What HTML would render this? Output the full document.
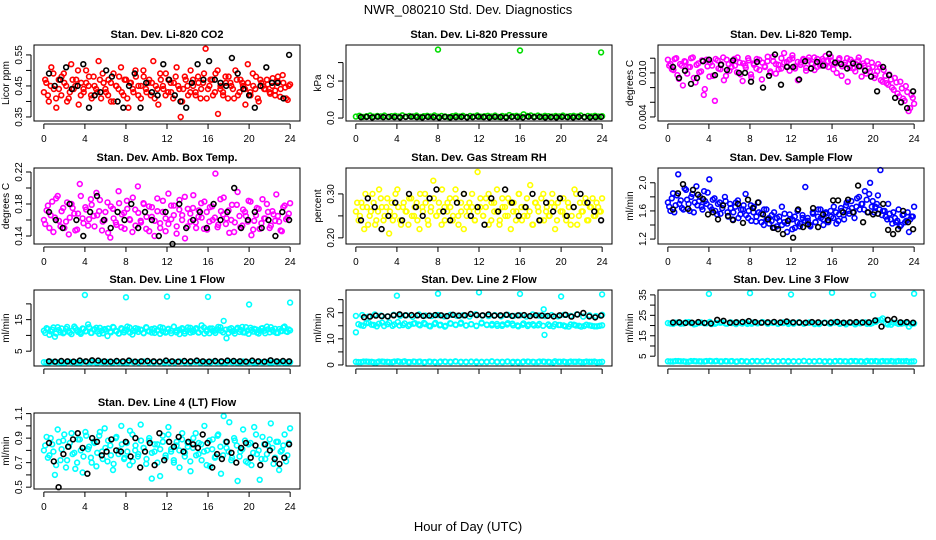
<!DOCTYPE html>
<html><head><meta charset="utf-8"><style>
html,body{margin:0;padding:0;background:#fff;}
svg{display:block;font-family:"Liberation Sans",Arial,sans-serif;}
</style></head><body>
<svg id="chart" width="936" height="540" viewBox="0 0 936 540">
<text x="468" y="14" text-anchor="middle" font-size="13">NWR_080210  Std. Dev. Diagnostics</text>
<text x="468" y="531" text-anchor="middle" font-size="13">Hour of Day (UTC)</text>
</svg>
<script>
// ---- data ----
const xTicks = [0,4,8,12,16,20,24];
const co2Red = [0.43,0.46,0.40,0.51,0.44,0.38,0.47,0.42,0.49,0.45,0.41,0.52,0.44,0.47,0.39,0.46,0.43,0.50,0.45,0.42,0.48,0.44,0.53,0.41,0.46,0.43,0.47,0.40,0.49,0.45,0.44,0.51,0.42,0.47,0.38,0.46,0.43,0.48,0.45,0.41,0.50,0.44,0.46,0.42,0.53,0.45,0.39,0.47,0.44,0.49,0.43,0.46,0.41,0.48,0.45,0.35,0.44,0.47,0.42,0.50,0.45,0.43,0.48,0.41,0.46,0.57,0.44,0.47,0.42,0.49,0.36,0.45,0.43,0.48,0.41,0.46,0.44,0.50,0.42,0.47,0.45,0.39,0.46,0.43,0.49,0.44,0.41,0.47,0.45,0.44,0.455,0.425,0.475,0.435,0.465,0.415,0.485,0.445,0.405,0.455];
const co2Red2 = [0.47,0.42,0.45,0.49,0.41,0.44,0.48,0.46,0.40,0.43,0.47,0.45,0.50,0.42,0.44,0.46,0.48,0.41,0.45,0.43,0.47,0.49,0.44,0.42,0.46,0.40,0.45,0.48,0.43,0.47,0.41,0.46,0.44,0.50,0.42,0.45,0.48,0.43,0.47,0.46,0.41,0.44,0.49,0.45,0.42,0.47,0.43,0.46,0.51,0.44,0.40,0.48,0.45,0.43,0.47,0.42,0.46,0.44,0.49,0.41,0.45,0.47,0.43,0.50,0.44,0.42,0.46,0.48,0.45,0.41,0.47,0.43,0.46,0.44,0.52,0.42,0.45,0.48,0.40,0.46,0.44,0.47,0.43,0.45,0.42,0.48,0.44,0.46,0.41,0.45];
const co2Black = [0.49,0.45,0.47,0.51,0.44,0.45,0.52,0.38,0.42,0.43,0.50,0.48,0.40,0.38,0.45,0.49,0.38,0.46,0.43,0.42,0.52,0.47,0.42,0.40,0.38,0.46,0.52,0.47,0.53,0.47,0.46,0.45,0.54,0.49,0.44,0.42,0.38,0.45,0.51,0.46,0.46,0.41,0.55];
const presGreen = [0.008,0.012,0.006,0.010,0.014,0.007,0.011,0.009,0.013,0.006,0.010,0.012,0.008,0.015,0.007,0.011,0.009,0.013,0.006,0.010,0.012,0.008,0.014,0.007,0.011,0.009,0.005,0.010,0.013,0.008,0.012,0.006,0.011,0.009,0.014,0.007,0.010,0.012,0.008,0.013,0.006,0.011,0.009,0.016,0.010,0.012,0.008,0.020,0.011,0.014,0.009,0.013,0.007,0.012,0.010,0.008,0.011,0.009,0.013,0.007,0.010,0.012,0.008,0.014,0.006,0.011,0.009,0.012,0.008,0.010];
const presOutX = [8,16,23.9];
const presOutY = [0.37,0.365,0.355];
const presBlack = [0.005,0.006,0.004,0.007,0.005,0.006,0.005,0.004,0.006,0.007,0.005,0.004,0.006,0.005,0.003,0.006,0.004,0.005,0.006,0.004,0.005,0.007,0.005,0.004,0.006,0.005,0.003,0.006,0.005,0.004,0.007,0.005,0.006,0.004,0.005,0.004,0.006,0.005,0.004,0.006,0.005,0.004,0.005,0.006];
const tempMag = [0.0118,0.0112,0.0104,0.0120,0.0092,0.0110,0.0116,0.0099,0.0108,0.0121,0.0087,0.0113,0.0102,0.0070,0.0118,0.0095,0.0110,0.0062,0.0117,0.0105,0.0121,0.0096,0.0112,0.0108,0.0119,0.0101,0.0114,0.0089,0.0110,0.0120,0.0098,0.0113,0.0106,0.0118,0.0091,0.0109,0.0116,0.0102,0.0122,0.0099,0.0111,0.0106,0.0127,0.0115,0.0103,0.0120,0.0109,0.0090,0.0114,0.0118,0.0107,0.0121,0.0112,0.0104,0.0119,0.0110,0.0116,0.0123,0.0108,0.0117,0.0112,0.0100,0.0120,0.0109,0.0114,0.0088,0.0118,0.0106,0.0112,0.0121,0.0095,0.0110,0.0116,0.0102,0.0108,0.0097,0.0112,0.0090,0.0104,0.0086,0.0098,0.0080,0.0093,0.0072,0.0088,0.0065,0.0082,0.0048,0.0070,0.0058];
const tempMag2 = [0.0110,0.0105,0.0119,0.0097,0.0112,0.0083,0.0115,0.0108,0.0120,0.0093,0.0111,0.0101,0.0117,0.0078,0.0109,0.0114,0.0096,0.0119,0.0106,0.0112,0.0090,0.0118,0.0103,0.0115,0.0110,0.0121,0.0098,0.0113,0.0107,0.0117,0.0094,0.0111,0.0119,0.0104,0.0114,0.0108,0.0122,0.0100,0.0116,0.0112,0.0105,0.0120,0.0114,0.0109,0.0118,0.0124,0.0106,0.0115,0.0111,0.0119,0.0103,0.0117,0.0113,0.0121,0.0108,0.0115,0.0119,0.0110,0.0116,0.0122,0.0105,0.0113,0.0118,0.0096,0.0111,0.0120,0.0107,0.0115,0.0102,0.0117,0.0109,0.0113,0.0099,0.0106,0.0114,0.0093,0.0102,0.0108,0.0088,0.0096,0.0084,0.0091,0.0077,0.0087,0.0068,0.0079,0.0062,0.0074,0.0052,0.0066];
const tempBlack = [0.0108,0.0093,0.0103,0.0085,0.0093,0.0116,0.0118,0.0097,0.0111,0.0104,0.0117,0.0100,0.0100,0.0088,0.0115,0.0080,0.0096,0.0125,0.0084,0.0108,0.0108,0.0091,0.0116,0.0106,0.0115,0.0110,0.0126,0.0114,0.0112,0.0106,0.0113,0.0109,0.0103,0.0095,0.0075,0.0108,0.0097,0.0066,0.0060,0.0052,0.0075];
const boxMag = [0.16,0.172,0.15,0.183,0.163,0.19,0.152,0.175,0.158,0.142,0.18,0.168,0.148,0.205,0.162,0.176,0.153,0.186,0.165,0.194,0.171,0.147,0.16,0.182,0.138,0.174,0.157,0.196,0.151,0.169,0.184,0.161,0.145,0.173,0.202,0.159,0.181,0.149,0.177,0.164,0.14,0.187,0.156,0.17,0.146,0.193,0.161,0.178,0.152,0.185,0.166,0.137,0.174,0.158,0.191,0.15,0.172,0.163,0.183,0.148,0.176,0.16,0.218,0.154,0.171,0.188,0.162,0.144,0.179,0.157,0.195,0.151,0.173,0.165,0.184,0.141,0.159,0.175,0.149,0.186,0.162,0.17,0.153,0.167,0.192,0.158,0.146,0.178,0.163,0.181];
const boxMag2 = [0.155,0.178,0.166,0.145,0.187,0.159,0.171,0.150,0.182,0.163,0.175,0.147,0.168,0.190,0.156,0.173,0.161,0.179,0.152,0.166,0.185,0.158,0.170,0.144,0.177,0.162,0.154,0.181,0.167,0.149,0.174,0.160,0.188,0.153,0.169,0.157,0.180,0.164,0.146,0.176,0.159,0.171,0.150,0.184,0.162,0.155,0.178,0.166,0.143,0.173,0.160,0.189,0.152,0.168,0.175,0.157,0.164,0.181,0.149,0.170,0.158,0.177,0.163,0.151,0.186,0.167,0.155,0.172,0.160,0.145,0.179,0.165,0.153,0.170,0.158,0.183,0.148,0.166,0.174,0.156,0.162,0.180,0.150,0.171,0.159,0.165,0.147,0.176,0.161,0.168];
const boxBlack = [0.17,0.16,0.15,0.18,0.16,0.14,0.17,0.19,0.16,0.15,0.17,0.16,0.18,0.15,0.17,0.16,0.14,0.17,0.13,0.18,0.15,0.16,0.17,0.15,0.18,0.16,0.17,0.20,0.15,0.16,0.17,0.15,0.16,0.14,0.17,0.16];
const rhYellow = [0.26,0.24,0.28,0.22,0.27,0.25,0.30,0.23,0.26,0.29,0.24,0.27,0.21,0.28,0.25,0.31,0.24,0.27,0.26,0.23,0.29,0.25,0.28,0.22,0.27,0.30,0.24,0.26,0.33,0.25,0.28,0.23,0.27,0.26,0.29,0.24,0.31,0.25,0.28,0.22,0.27,0.26,0.30,0.24,0.35,0.27,0.25,0.29,0.23,0.28,0.26,0.31,0.24,0.27,0.25,0.29,0.22,0.28,0.26,0.30,0.24,0.27,0.25,0.32,0.23,0.28,0.26,0.29,0.24,0.27,0.25,0.30,0.22,0.28,0.26,0.29,0.24,0.27,0.25,0.31,0.23,0.28,0.26,0.29,0.24,0.27,0.25,0.28,0.26,0.29];
const rhYellow2 = [0.28,0.25,0.27,0.30,0.23,0.26,0.28,0.24,0.31,0.27,0.25,0.29,0.26,0.24,0.30,0.27,0.23,0.28,0.26,0.29,0.25,0.27,0.24,0.30,0.26,0.28,0.23,0.27,0.29,0.25,0.26,0.31,0.24,0.28,0.27,0.25,0.29,0.23,0.26,0.30,0.25,0.28,0.27,0.24,0.26,0.29,0.25,0.27,0.30,0.24,0.28,0.26,0.23,0.29,0.27,0.25,0.28,0.26,0.24,0.30,0.27,0.25,0.29,0.26,0.23,0.28,0.27,0.24,0.30,0.26,0.25,0.28,0.27,0.24,0.29,0.26,0.25,0.28,0.23,0.27,0.30,0.25,0.26,0.28,0.24,0.27,0.29,0.25,0.27,0.26];
const rhBlack = [0.24,0.29,0.27,0.22,0.25,0.28,0.24,0.30,0.27,0.25,0.29,0.31,0.26,0.24,0.28,0.30,0.25,0.27,0.23,0.29,0.26,0.31,0.28,0.25,0.27,0.30,0.24,0.28,0.26,0.29,0.25,0.27,0.30,0.28,0.26,0.24];
const flowBlue = [1.72,1.60,1.85,1.68,2.12,1.75,1.62,1.90,1.70,1.80,1.58,1.95,1.74,1.66,1.88,1.70,2.05,1.62,1.78,1.55,1.72,1.64,1.80,1.58,1.70,1.48,1.66,1.75,1.55,1.62,1.84,1.50,1.68,1.58,1.45,1.72,1.56,1.40,1.62,1.50,1.46,1.58,1.38,1.52,1.66,1.44,1.30,1.55,1.48,1.36,1.60,1.42,1.50,1.94,1.46,1.38,1.56,1.44,1.62,1.50,1.40,1.58,1.46,1.52,1.66,1.42,1.55,1.60,1.48,1.72,1.56,1.64,1.50,1.78,1.62,1.70,1.88,1.58,2.00,1.74,1.66,1.82,2.18,1.60,1.52,1.70,1.48,1.58,1.44,1.62,1.40,1.55,1.46,1.30,1.52,1.66];
const flowBlue2 = [1.66,1.78,1.58,1.82,1.70,1.64,1.92,1.76,1.60,1.84,1.72,1.68,1.80,1.62,1.74,1.86,1.66,1.76,1.60,1.70,1.56,1.68,1.74,1.52,1.64,1.58,1.72,1.50,1.62,1.68,1.54,1.60,1.46,1.66,1.52,1.58,1.44,1.62,1.48,1.42,1.54,1.36,1.50,1.46,1.40,1.56,1.42,1.48,1.34,1.52,1.44,1.38,1.54,1.46,1.50,1.40,1.58,1.44,1.52,1.62,1.48,1.56,1.44,1.60,1.50,1.58,1.46,1.64,1.54,1.68,1.60,1.74,1.58,1.66,1.80,1.70,1.62,1.76,1.84,1.66,1.58,1.70,1.62,1.54,1.60,1.48,1.56,1.42,1.50,1.46,1.38,1.54,1.44,1.58,1.48,1.52];
const flowBlack = [1.62,1.85,1.98,1.63,1.90,1.83,1.77,1.55,1.58,1.48,1.68,1.53,1.47,1.70,1.43,1.76,1.64,1.72,1.55,1.48,1.36,1.34,1.27,1.46,1.22,1.62,1.37,1.41,1.64,1.37,1.55,1.47,1.75,1.75,1.58,1.76,1.58,1.96,1.44,1.58,1.55,1.56,1.70,1.33,1.27,1.34,1.60,1.44,1.34];
const l1Upper = [11.5,12.3,10.2,11.8,9.6,12.6,11.0,10.7,12.1,11.4,10.4,12.8,11.7,10.9,12.2,11.3,13.5,10.8,11.9,12.4,10.5,11.6,12.0,9.8,11.2,12.7,11.5,10.6,12.3,11.0,11.8,12.5,10.3,11.4,12.1,11.7,10.8,12.6,11.3,10.9,12.2,11.5,10.5,12.4,11.1,11.9,10.7,12.8,11.6,10.4,12.0,11.3,12.5,10.9,11.7,12.3,11.0,13.2,10.6,11.8,12.2,11.4,10.8,12.7,11.5,14.6,9.1,12.0,11.3,10.6,12.4,11.8,11.0,12.6,10.5,11.7,12.1,10.9,11.5,12.3,10.7,11.9,12.6,11.2,10.8,12.0,11.4,12.8,11.1,11.6];
const l1Upper2 = [10.8,12.0,11.3,12.5,10.6,11.7,12.2,11.0,12.7,10.9,11.6,12.3,11.1,10.5,12.1,11.4,12.6,10.8,11.9,11.2,12.4,10.7,11.8,12.2,11.0,12.5,11.3,10.6,12.0,11.6,12.8,10.9,11.5,12.3,11.1,11.8,10.7,12.4,11.4,12.0,10.8,11.7,12.6,11.2,10.9,12.1,11.5,12.7,11.0,11.8,12.3,10.6,11.6,12.4,11.1,12.0,10.9,11.7,12.5,11.3,10.7,12.2,11.5,11.9,12.6,11.0,11.8,10.8,12.3,11.4,12.0,11.1,12.7,10.9,11.6,12.4,11.2,11.9,10.6,12.2,11.5,12.8,11.0,11.7,12.1,10.8,11.4,12.5,11.3,11.9];
const l1Lower = [1.5,1.4,1.6,1.5,1.3,1.6,1.5,1.4,1.7,1.5,1.4,1.6,1.5,1.3,1.6,1.5,1.4,1.6,1.5,1.7,1.4,1.5,1.6,1.3,1.5,1.4,1.6,1.5,1.4,1.6,1.5,1.3,1.6,1.5,1.4,1.6,1.5,1.4,1.7,1.5,1.4,1.6,1.5,1.4,1.6,1.5,1.3,1.5];
const l1Lower2 = [1.4,1.6,1.5,1.3,1.6,1.5,1.4,1.6,1.5,1.7,1.4,1.5,1.6,1.4,1.5,1.3,1.6,1.5,1.4,1.6,1.5,1.4,1.5,1.6,1.4,1.5,1.7,1.4,1.5,1.6,1.3,1.5,1.4,1.6,1.5,1.4,1.6,1.5,1.3,1.5,1.6,1.4,1.5,1.6,1.4,1.5,1.6,1.4];
const l1Black = [1.8,1.7,1.9,1.8,1.7,2.0,1.8,2.1,2.0,1.8,1.7,1.9,1.8,2.0,1.7,1.8,1.9,1.8,1.7,2.0,1.8,1.7,1.9,1.8,2.0,1.8,1.7,1.9,1.8,2.0,1.9,1.8,1.7,2.0,1.8,1.7,2.1,1.8,1.9,1.8];
const l1OutX = [4,8,12,16,20,24];
const l1OutY = [22.8,22.1,22.3,22.2,19.8,20.4];
const l2Top = [18.8,19.1,18.5,19.3,18.9,18.6,19.2,18.8,19.0,18.4,19.3,18.9,18.7,19.1,18.6,19.2,18.8,19.0,18.5,19.4,18.9,18.7,19.1,18.6,19.2,18.8,19.0,18.5,19.3,18.9,18.7,19.1,18.6,19.2,18.8,19.4,18.5,19.0,18.7,19.2];
const l2Mid = [12.5,15.2,16.0,15.4,14.8,16.2,15.6,15.0,16.4,15.3,14.9,15.8,15.5,16.1,15.0,15.7,15.2,14.7,16.0,15.4,15.8,15.1,15.6,14.9,16.2,15.3,15.7,15.0,15.5,16.0,15.2,14.8,15.9,15.4,15.1,15.7,11.5,15.0,15.6,15.3,14.8,15.5,15.1,14.7,15.4,15.0,14.8,15.2];
const l2Mid2 = [15.6,15.0,16.1,15.3,15.8,14.9,16.3,15.5,15.1,15.9,15.4,16.0,15.2,15.7,14.8,16.1,15.4,15.0,15.8,15.3,16.2,15.1,15.6,15.0,15.9,15.4,15.2,15.7,15.0,15.5,15.8,15.1,15.4,14.9,15.6,15.2,15.0,15.5,14.8,15.3,15.1,14.7,15.4,15.0,14.9,15.2,14.8,15.0];
const l2Low = [1.2,1.1,1.3,1.2,1.0,1.3,1.2,1.1,1.4,1.2,1.1,1.3,1.2,1.0,1.3,1.2,1.1,1.3,1.2,1.4,1.1,1.2,1.3,1.0,1.2,1.1,1.3,1.2,1.1,1.3,1.2,1.0,1.3,1.2,1.1,1.3,1.2,1.1,1.4,1.2,1.1,1.3,1.2,1.1,1.3,1.2,1.0,1.2];
const l2Low2 = [1.1,1.3,1.2,1.0,1.3,1.2,1.1,1.3,1.2,1.4,1.1,1.2,1.3,1.1,1.2,1.0,1.3,1.2,1.1,1.3,1.2,1.1,1.2,1.3,1.1,1.2,1.4,1.1,1.2,1.3,1.0,1.2,1.1,1.3,1.2,1.1,1.3,1.2,1.0,1.2,1.3,1.1,1.2,1.3,1.1,1.2,1.3,1.1];
const l2Black = [18.3,18.5,18.9,18.7,18.6,19.0,19.4,19.0,19.1,19.0,18.8,18.9,19.1,19.0,18.7,19.2,18.9,19.0,19.5,19.1,19.0,19.3,18.9,19.0,19.2,18.8,19.0,19.1,18.7,19.0,18.9,18.8,18.6,19.0,19.2,18.5,19.3,19.9,18.6,18.2,18.9];
const l2OutX = [4,8,12,16,18.3,20,24];
const l2OutY = [26.5,27.3,27.8,27.2,21.3,26.2,27.0];
const l3Main = [21.2,20.8,21.5,21.0,21.7,20.6,21.3,21.1,21.8,20.9,21.4,21.0,21.6,20.7,21.2,21.5,20.9,21.3,21.7,21.0,21.4,20.8,21.2,21.6,20.9,21.3,21.0,21.5,20.7,21.2,21.4,20.9,21.6,21.1,20.6,21.3,21.0,21.5,20.8,21.2,22.5,23.5,20.5,21.4,20.8,21.2,19.5,21.0];
const l3Main2 = [21.0,21.4,20.9,21.6,21.2,20.8,21.5,21.1,20.7,21.3,21.6,20.9,21.2,21.5,21.0,20.8,21.4,21.1,21.6,20.9,21.3,21.0,21.5,20.8,21.2,21.6,20.9,21.3,21.1,20.7,21.4,21.0,21.5,20.8,21.2,21.4,20.6,21.1,21.5,20.9,21.8,22.8,21.0,20.4,21.3,20.9,21.1,20.7];
const l3Low = [2.5,2.4,2.6,2.5,2.3,2.6,2.5,2.4,2.7,2.5,2.4,2.6,2.5,2.3,2.6,2.5,2.4,2.6,2.5,2.7,2.4,2.5,2.6,2.3,2.5,2.4,2.6,2.5,2.4,2.6,2.5,2.3,2.6,2.5,2.4,2.6,2.5,2.4,2.7,2.5,2.4,2.6,2.5,2.4,2.6,2.5,2.3,2.5];
const l3Low2 = [2.4,2.6,2.5,2.3,2.6,2.5,2.4,2.6,2.5,2.7,2.4,2.5,2.6,2.4,2.5,2.3,2.6,2.5,2.4,2.6,2.5,2.4,2.5,2.6,2.4,2.5,2.7,2.4,2.5,2.6,2.3,2.5,2.4,2.6,2.5,2.4,2.6,2.5,2.3,2.5,2.6,2.4,2.5,2.6,2.4,2.5,2.6,2.4];
const l3Black = [21.5,21.6,21.3,21.4,21.7,21.3,21.0,22.8,22.3,21.4,21.6,21.8,22.2,21.7,21.4,21.6,21.8,21.5,22.0,21.6,21.5,21.4,21.7,21.6,21.3,21.5,21.8,21.4,21.6,21.7,21.5,21.6,22.5,19.5,22.8,23.2,21.6,21.7,21.4];
const l3OutX = [4,8,12,16,20,24];
const l3OutY = [35.5,35.9,35.2,36.1,35.0,35.6];
const l4Cyan = [0.80,0.91,0.76,0.85,0.60,0.97,0.72,0.88,0.66,0.83,0.94,0.78,0.70,0.89,0.62,0.95,0.81,0.74,0.87,0.67,0.92,0.79,0.98,0.71,0.84,0.64,0.90,0.77,1.00,0.73,0.86,0.68,0.93,0.80,0.75,1.01,0.82,0.69,0.88,0.57,0.79,0.85,0.59,0.92,0.74,0.99,0.81,0.70,0.87,0.66,0.94,0.78,0.83,0.63,0.90,0.76,0.86,0.72,1.00,0.80,0.67,0.89,0.75,0.93,0.61,1.08,0.82,1.03,0.74,0.88,0.55,0.79,0.97,0.71,0.85,0.68,0.99,0.77,0.56,0.91,0.73,0.84,1.02,0.69,0.87,0.64,0.80,0.93,0.76,0.98];
const l4Cyan2 = [0.84,0.74,0.90,0.79,0.68,0.87,0.81,0.93,0.72,0.86,0.77,0.65,0.89,0.80,0.75,0.92,0.83,0.70,0.86,0.78,0.95,0.73,0.82,0.88,0.76,0.69,0.91,0.80,0.85,0.74,0.79,0.96,0.71,0.84,0.77,0.88,0.82,0.73,0.90,0.78,0.85,0.70,0.81,0.87,0.76,0.93,0.79,0.72,0.84,0.80,0.89,0.75,0.86,0.71,0.82,0.94,0.77,0.85,0.79,0.68,0.88,0.81,0.74,0.92,0.83,0.76,0.87,0.79,0.72,0.90,0.84,0.75,0.81,0.88,0.70,0.86,0.78,0.93,0.80,0.73,0.85,0.77,0.89,0.82,0.74,0.87,0.79,0.84,0.71,0.86];
const l4Black = [0.86,0.71,0.50,0.77,0.83,0.89,0.94,0.82,0.61,0.90,0.87,0.76,0.79,0.89,0.80,0.79,0.87,0.75,0.90,0.66,0.79,0.86,0.68,0.94,0.72,0.87,0.83,0.91,0.79,0.87,0.85,0.82,0.93,0.86,0.66,0.77,0.73,0.87,0.78,0.70,0.82,0.86,0.74,0.84,0.68,0.85,0.80,0.73,0.69,0.74,0.85];

// ---- axis ticks ----
const co2Ticks=[0.35,0.40,0.45,0.50,0.55], co2Labels=["0.35","","0.45","","0.55"];
const presTicks=[0,0.1,0.2,0.3], presLabels=["0.0","","0.2",""];
const tempTicks=[0.004,0.006,0.008,0.010,0.012], tempLabels=["0.004","","","0.010",""];
const boxTicks=[0.14,0.16,0.18,0.20,0.22], boxLabels=["0.14","","0.18","","0.22"];
const rhTicks=[0.20,0.25,0.30], rhLabels=["0.20","","0.30"];
const flowTicks=[1.2,1.4,1.6,1.8,2.0], flowLabels=["1.2","","1.6","","2.0"];
const l1Ticks=[5,10,15,20], l1Labels=["5","","15",""];
const l2Ticks=[0,5,10,15,20,25], l2Labels=["0","","10","","20",""];
const l3Ticks=[5,10,15,20,25,30,35], l3Labels=["5","","15","","25","","35"];
const l4Ticks=[0.5,0.6,0.7,0.8,0.9,1.0,1.1], l4Labels=["0.5","","0.7","","0.9","","1.1"];

const NS="http://www.w3.org/2000/svg";
const svg=document.getElementById('chart');
const colL=[34,346,658], rowT=[45,168,290,413], W=266, H=76;
function mk(tag,attrs,parent){const e=document.createElementNS(NS,tag);for(const k in attrs)e.setAttribute(k,attrs[k]);parent.appendChild(e);return e;}

function series(g,sx,sy,ys,xs,x0,x1,color,name){
  ys.forEach((v,i)=>{
    const h = xs ? xs[i] : x0 + (x1-x0)*i/(ys.length-1);
    const c=mk('circle',{cx:sx(h).toFixed(1),cy:sy(v).toFixed(1),r:2.4,fill:'none',stroke:color,'stroke-width':1.6},g);
    
    
  });
}

function panel(p){
  const L=colL[p.col], T=rowT[p.row];
  const g=mk('g',{},svg);
  
  
  const sx=h=>L+(h+0.96)/25.92*W;
  const sy=v=>T+H-(v-p.ylo)/(p.yhi-p.ylo)*H;
  const t=mk('text',{x:L+W/2,y:T-7,'text-anchor':'middle','font-size':11,'font-weight':'bold'},g);
  t.textContent=p.title;
  
  
  p.series.forEach(s=>series(g,sx,sy,s.y,s.x,s.x0,s.x1,s.c,p.id+'-'+s.n));
  const box=mk('rect',{x:L,y:T,width:W,height:H,fill:'none',stroke:'#000','stroke-width':1},g);
  
  
  mk('line',{x1:sx(0),x2:sx(24),y1:T+H+3,y2:T+H+3,stroke:'#000'},g);
  xTicks.forEach(h=>{
    mk('line',{x1:sx(h),x2:sx(h),y1:T+H+3,y2:T+H+8,stroke:'#000'},g);
    if(p.xlab){const tx=mk('text',{x:sx(h),y:T+H+21,'text-anchor':'middle','font-size':10},g);tx.textContent=h;
      
      }
  });
  const yt=p.ticks;
  mk('line',{x1:L-3,x2:L-3,y1:sy(yt[0]),y2:sy(yt[yt.length-1]),stroke:'#000'},g);
  yt.forEach((v,i)=>{
    mk('line',{x1:L-8,x2:L-3,y1:sy(v),y2:sy(v),stroke:'#000'},g);
    if(p.labels[i]){const ty=mk('text',{x:0,y:0,'text-anchor':'middle','font-size':10,transform:`translate(${L-12},${sy(v)}) rotate(-90)`},g);ty.textContent=p.labels[i];
      
      }
  });
  const yl=mk('text',{x:0,y:0,'text-anchor':'middle','font-size':10,transform:`translate(${L-25},${T+H/2}) rotate(-90)`},g);
  yl.textContent=p.ylab;
  
  
}
const A=0,B=24,A2=0.13,B2=23.87,bA=0.5,bB=23.9;
const panels=[
 {id:'co2',col:0,row:0,title:'Stan. Dev. Li-820 CO2',ylab:'Licor ppm',ylo:0.337,yhi:0.582,ticks:co2Ticks,labels:co2Labels,xlab:true,
  series:[{y:co2Red,x0:A,x1:B,c:'#ff0000',n:'red-points'},{y:co2Red2,x0:A2,x1:B2,c:'#ff0000',n:'red-points-b'},{y:co2Black,x0:bA,x1:bB,c:'#000',n:'black-points'}]},
 {id:'pressure',col:1,row:0,title:'Stan. Dev. Li-820 Pressure',ylab:'kPa',ylo:-0.016,yhi:0.395,ticks:presTicks,labels:presLabels,xlab:true,
  series:[{y:presGreen,x0:A,x1:B,c:'#00dd00',n:'green-points'},{y:presOutY,x:presOutX,c:'#00dd00',n:'green-outliers'},{y:presBlack,x0:bA,x1:bB,c:'#000',n:'black-points'}]},
 {id:'temp',col:2,row:0,title:'Stan. Dev. Li-820 Temp.',ylab:'degrees C',ylo:0.00345,yhi:0.0138,ticks:tempTicks,labels:tempLabels,xlab:true,
  series:[{y:tempMag,x0:A,x1:B,c:'#ff00ff',n:'magenta-points'},{y:tempMag2,x0:A2,x1:B2,c:'#ff00ff',n:'magenta-points-b'},{y:tempBlack,x0:bA,x1:bB,c:'#000',n:'black-points'}]},
 {id:'box-temp',col:0,row:1,title:'Stan. Dev. Amb. Box Temp.',ylab:'degrees C',ylo:0.13,yhi:0.225,ticks:boxTicks,labels:boxLabels,xlab:true,
  series:[{y:boxMag,x0:A,x1:B,c:'#ff00ff',n:'magenta-points'},{y:boxMag2,x0:A2,x1:B2,c:'#ff00ff',n:'magenta-points-b'},{y:boxBlack,x0:bA,x1:bB,c:'#000',n:'black-points'}]},
 {id:'rh',col:1,row:1,title:'Stan. Dev. Gas Stream RH',ylab:'percent',ylo:0.186,yhi:0.359,ticks:rhTicks,labels:rhLabels,xlab:true,
  series:[{y:rhYellow,x0:A,x1:B,c:'#ffff00',n:'yellow-points'},{y:rhYellow2,x0:A2,x1:B2,c:'#ffff00',n:'yellow-points-b'},{y:rhBlack,x0:bA,x1:bB,c:'#000',n:'black-points'}]},
 {id:'sample-flow',col:2,row:1,title:'Stan. Dev. Sample Flow',ylab:'ml/min',ylo:1.13,yhi:2.21,ticks:flowTicks,labels:flowLabels,xlab:true,
  series:[{y:flowBlue,x0:A,x1:B,c:'#0000ff',n:'blue-points'},{y:flowBlue2,x0:A2,x1:B2,c:'#0000ff',n:'blue-points-b'},{y:flowBlack,x0:bA,x1:bB,c:'#000',n:'black-points'}]},
 {id:'line1',col:0,row:2,title:'Stan. Dev. Line 1 Flow',ylab:'ml/min',ylo:0.3,yhi:24.4,ticks:l1Ticks,labels:l1Labels,xlab:false,
  series:[{y:l1Upper,x0:A,x1:B,c:'#00ffff',n:'cyan-upper'},{y:l1Upper2,x0:A2,x1:B2,c:'#00ffff',n:'cyan-upper-b'},{y:l1Lower,x0:A,x1:B,c:'#00ffff',n:'cyan-lower'},{y:l1Lower2,x0:A+0.25,x1:B-0.25,c:'#00ffff',n:'cyan-lower-b'},{y:l1OutY,x:l1OutX,c:'#00ffff',n:'cyan-outliers'},{y:l1Black,x0:bA,x1:bB,c:'#000',n:'black-points'}]},
 {id:'line2',col:1,row:2,title:'Stan. Dev. Line 2 Flow',ylab:'ml/min',ylo:-0.4,yhi:28.7,ticks:l2Ticks,labels:l2Labels,xlab:false,
  series:[{y:l2Top,x0:A,x1:B,c:'#00ffff',n:'cyan-top'},{y:l2Mid,x0:A,x1:B,c:'#00ffff',n:'cyan-mid'},{y:l2Mid2,x0:A+0.25,x1:B-0.25,c:'#00ffff',n:'cyan-mid-b'},{y:l2Low,x0:A,x1:B,c:'#00ffff',n:'cyan-low'},{y:l2Low2,x0:A+0.25,x1:B-0.25,c:'#00ffff',n:'cyan-low-b'},{y:l2OutY,x:l2OutX,c:'#00ffff',n:'cyan-outliers'},{y:l2Black,x0:bA+0.3,x1:bB,c:'#000',n:'black-points'}]},
 {id:'line3',col:2,row:2,title:'Stan. Dev. Line 3 Flow',ylab:'ml/min',ylo:0.2,yhi:37.4,ticks:l3Ticks,labels:l3Labels,xlab:false,
  series:[{y:l3Main,x0:A,x1:B,c:'#00ffff',n:'cyan-main'},{y:l3Main2,x0:A+0.25,x1:B-0.25,c:'#00ffff',n:'cyan-main-b'},{y:l3Low,x0:A,x1:B,c:'#00ffff',n:'cyan-low'},{y:l3Low2,x0:A+0.25,x1:B-0.25,c:'#00ffff',n:'cyan-low-b'},{y:l3OutY,x:l3OutX,c:'#00ffff',n:'cyan-outliers'},{y:l3Black,x0:bA,x1:bB,c:'#000',n:'black-points'}]},
 {id:'line4',col:0,row:3,title:'Stan. Dev. Line 4 (LT) Flow',ylab:'ml/min',ylo:0.485,yhi:1.105,ticks:l4Ticks,labels:l4Labels,xlab:true,
  series:[{y:l4Cyan,x0:A,x1:B,c:'#00ffff',n:'cyan-points'},{y:l4Cyan2,x0:A2,x1:B2,c:'#00ffff',n:'cyan-points-b'},{y:l4Black,x0:bA,x1:bB,c:'#000',n:'black-points'}]}
];
panels.forEach(panel);
</script>
</body></html>
